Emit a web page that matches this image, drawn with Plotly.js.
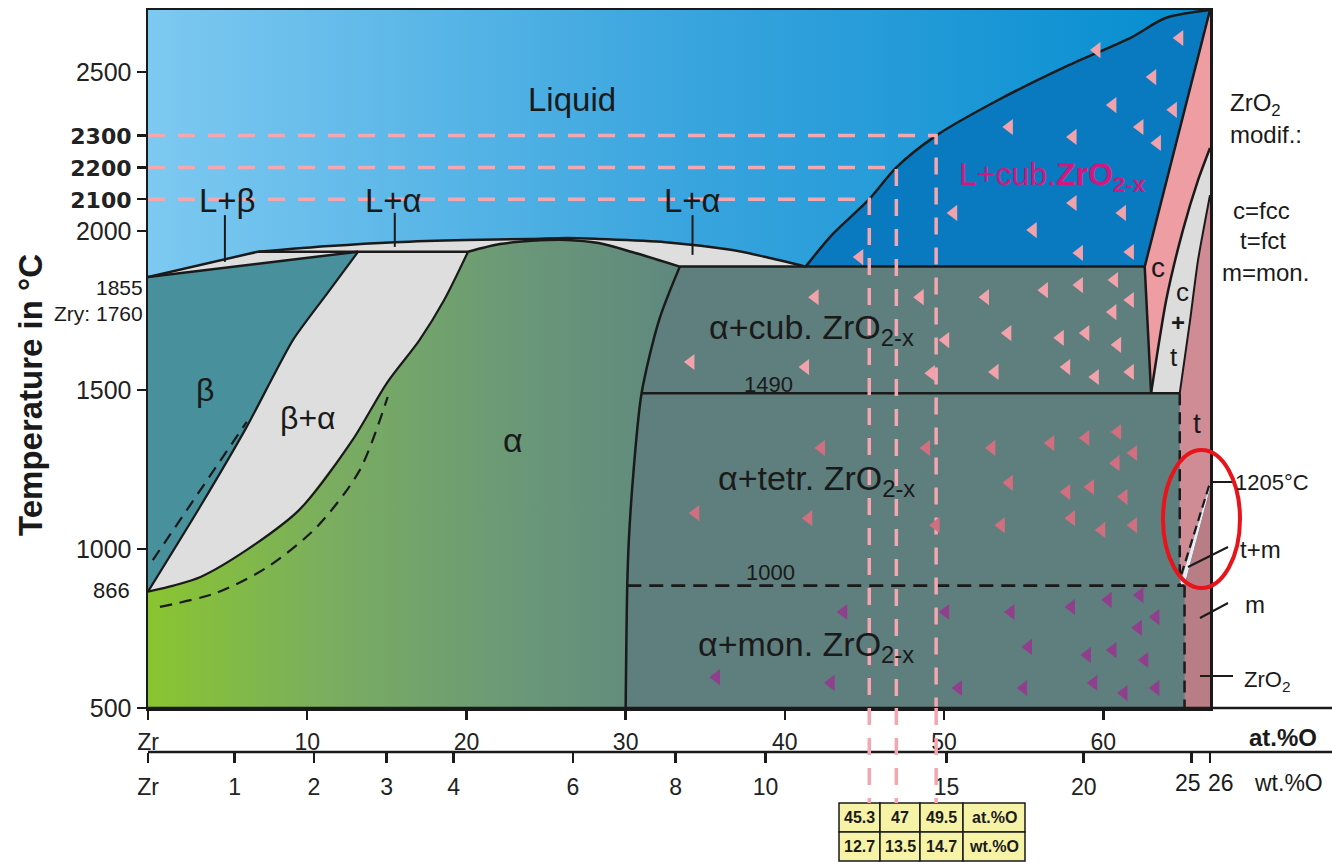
<!DOCTYPE html>
<html><head><meta charset="utf-8">
<script src="https://cdn.plot.ly/plotly-3.0.1.min.js"></script>
<style>html,body{margin:0;padding:0;background:#fff;}#chart{width:1332px;height:862px;}</style>
</head><body><div id="chart"></div>
<script>
// ================= DATA (x = at.% O, y = temperature in °C) =================
const xTickAt   = [0, 10, 20, 30, 40, 50, 60];
const xTickText = ['Zr', '10', '20', '30', '40', '50', '60'];
const wtTicks    = [0, 1, 2, 3, 4, 6, 8, 10, 15, 20, 25, 26];
const wtTickText = ['Zr', '1', '2', '3', '4', '6', '8', '10', '15', '20', '25', '26'];
const yTicks     = [500, 1000, 1500, 2000, 2500];
const yBoldTicks = [2100, 2200, 2300];

const X_MAX = 66.7, T_MIN = 500, T_MAX = 2695;
const T_PERITECTIC = 1935, T_MONOTECTIC = 1888, T_CT = 1490, T_1000LINE = 885, T_TM = 1205;

// liquidus Zr side (L+beta, L+alpha)
const liqAt = [0, 6.9, 11.4, 15.5, 20.0, 24.1, 26.3, 28.3, 32.5, 36.7, 38.8, 41.3];
const liqT  = [1855, 1935, 1953, 1965, 1972, 1975, 1978, 1975, 1965, 1940, 1918, 1888];
// beta solidus
const betaSolAt = [0, 13.2];
const betaSolT  = [1855, 1935];
// beta / (beta+alpha)
const betaBndAt = [0, 3.26, 6.2, 9.1, 11.2, 13.2];
const betaBndT  = [866, 1132, 1384, 1657, 1800, 1935];
// alpha / (beta+alpha)
const alphaBndAt = [0, 1.6, 3.3, 6.2, 9.5, 12.85, 15.0, 17.05, 18.6, 20.1];
const alphaBndT  = [866, 885, 912, 997, 1123, 1343, 1522, 1657, 1783, 1935];
// alpha solidus
const alphaSolAt = [20.1, 22.1, 24.1, 26.3, 28.3, 30.4, 33.4];
const alphaSolT  = [1935, 1959, 1969, 1972, 1962, 1934, 1888];
// alpha solvus
const alphaSvAt = [33.4, 32.1, 31.0, 30.5, 30.2, 30.1, 30.0];
const alphaSvT  = [1888, 1720, 1490, 1248, 1028, 885, 500];
// ZrO2 liquidus
const zLiqAt = [41.3, 43.0, 45.3, 47.0, 49.5, 53.4, 57.6, 61.8, 63.9, 66.7];
const zLiqT  = [1888, 1990, 2100, 2200, 2300, 2412, 2516, 2610, 2670, 2695];
// cubic ZrO2-x left boundary
const cubAt = [66.7, 62.6, 63.0];
const cubT  = [2695, 1888, 1490];
// c / (c+t)
const cctAt = [63.0, 63.95, 65.0, 65.95, 66.7];
const cctT  = [1490, 1783, 2003, 2160, 2261];
// t / (c+t)
const tctAt = [64.8, 65.45, 65.95, 66.7];
const tctT  = [1490, 1720, 1909, 2113];
// t/(t+m) and (t+m)/m
const tmAt = [64.8, 66.7];
const tmT  = [885, 1205];
const mAt  = [65.1, 66.7];
const mT   = [885, 1190];
const tetrRightAt = 64.8, monRightAt = 65.1;
// dashed curves in beta+alpha
const dashAlphaAt = [0.75, 4.3, 7.5, 10.6, 13.3, 15.05];
const dashAlphaT  = [818, 862, 943, 1069, 1248, 1478];
const dashBetaAt  = [0.3, 6.2];
const dashBetaT   = [965, 1400];

// marked compositions
const markAt = [45.3, 47, 49.5];
const markWt = [12.7, 13.5, 14.7];
const markT  = [2100, 2200, 2300];

// decorative ZrO2 flags
const flagCubAt = [64.8,59.6,63.1,60.6,64.4,62.3,54.1,58.1,63.4,50.6,58.1,61.2,55.6,58.5,61.7,44.7,
                   41.9,48.5,52.6,56.3,58.5,60.7,61.7,60.6,54.0,50.1,57.3,58.9,60.9,34.1,41.3,49.2,53.2,57.7,59.5,61.7];
const flagCubT  = [2607,2569,2484,2396,2381,2327,2327,2296,2277,2057,2088,2057,2003,1931,1934,1918,
                   1792,1792,1792,1814,1830,1846,1783,1745,1679,1657,1664,1679,1642,1588,1572,1553,1557,1572,1541,1557];
const flagTetAt = [42.3,48.9,53.0,56.7,58.9,60.9,61.9,60.8,54.1,57.7,59.2,61.3,34.4,41.5,49.5,53.6,58.0,59.9,61.9];
const flagTetT  = [1318,1318,1318,1333,1349,1368,1302,1270,1208,1179,1195,1164,1113,1097,1075,1075,1097,1060,1075];
const flagMonAt = [43.7,50.1,54.2,58.0,60.3,62.3,63.3,62.2,55.3,59.0,60.6,62.6,35.7,42.9,50.9,55.0,59.4,61.3,63.3];
const flagMonT  = [802,802,802,818,840,855,786,752,692,667,682,651,597,579,563,563,579,547,563];

// ================= STYLE / LAYOUT =================
const FONT = 'Liberation Sans, Arial, sans-serif';
const INK = '#1a1a1a';
const W = 1332, H = 862, ML = 148, MR = 122, MT = 10, MB = 20;
const PW = W - ML - MR, PH = H - MT - MB;
const X = px => (px - ML) / PW;          // pixel -> paper (layout decorations only)
const Y = py => (H - MB - py) / PH;
const Y_BOTTOM = Y(708);

function wtToAt(w) { const o = w / 16, z = (100 - w) / 91.224; return 100 * o / (o + z); }
const rev = a => a.slice().reverse();

const traces = [];
function region(x, y, color, grad) {
  const t = {x, y, type: 'scatter', mode: 'lines', fill: 'toself', line: {width: 0},
             fillcolor: color, hoverinfo: 'skip', showlegend: false};
  if (grad) t.fillgradient = grad;
  traces.push(t);
}
function line(x, y, width, dash, color, smooth) {
  traces.push({x, y, type: 'scatter', mode: 'lines', hoverinfo: 'skip', showlegend: false,
               line: {color: color || INK, width: width || 2.5, dash: dash || 'solid',
                      shape: smooth ? 'spline' : 'linear', smoothing: smooth || 0}});
}

// Liquid background
region([0, X_MAX, X_MAX, 0], [T_MIN, T_MIN, T_MAX, T_MAX], '#3aa5de',
  {type: 'horizontal', colorscale: [[0, '#7dc9f1'], [0.5, '#3aa5de'], [1, '#048dcf']]});
// two-phase gray (L+beta, L+alpha, beta+alpha)
region([].concat(liqAt, alphaSvAt, [0]), [].concat(liqT, alphaSvT, [T_MIN]), '#dedede');
// beta
region([].concat(betaSolAt, rev(betaBndAt)), [].concat(betaSolT, rev(betaBndT)), '#48909b');
// alpha (green gradient)
region([0].concat(alphaBndAt, alphaSolAt.slice(1), alphaSvAt.slice(1)),
       [T_MIN].concat(alphaBndT, alphaSolT.slice(1), alphaSvT.slice(1)), '#70a070',
  {type: 'horizontal', colorscale: [[0, '#89c530'], [0.35, '#7aad60'], [0.7, '#6a9878'], [1, '#5f887e']]});
// alpha + ZrO2-x
region(alphaSvAt.concat([monRightAt, monRightAt, tetrRightAt, tetrRightAt, cubAt[2], cubAt[1]]),
       alphaSvT.concat([T_MIN, T_1000LINE, T_1000LINE, T_CT, T_CT, T_MONOTECTIC]), '#5e7f7d');
// L + cub ZrO2
region(zLiqAt.concat([cubAt[1]]), zLiqT.concat([cubT[1]]), '#0a7ac0');
// c
region(cubAt.concat(cctAt), cubT.concat(cctT), '#ee9da3');
// c + t
region(cctAt.concat(rev(tctAt)), cctT.concat(rev(tctT)), '#dcdcdc');
// t
region(tctAt.concat([X_MAX, tmAt[0]]), tctT.concat([T_TM, tmT[0]]), '#d08c95');
// t + m wedge
region([tmAt[0], tmAt[1], mAt[1], mAt[0]], [tmT[0], tmT[1], mT[1], mT[0]], '#ececec');
// m
region([mAt[0], mAt[0], mAt[1], mAt[1]], [T_MIN, mT[0], mT[1], T_MIN], '#b97d86');

// phase boundaries
line(liqAt.slice(0, 2), liqT.slice(0, 2));
line(liqAt.slice(1), liqT.slice(1), 2.5, null, null, 0.8);
line(betaSolAt, betaSolT);
line([liqAt[1], alphaSolAt[0]], [T_PERITECTIC, T_PERITECTIC]);
line(betaBndAt, betaBndT, 2.2, null, null, 0.6);
line(alphaBndAt, alphaBndT, 2.2, null, null, 0.8);
line(alphaSolAt, alphaSolT, 2.5, null, null, 0.8);
line(alphaSvAt, alphaSvT, 2.5, null, null, 0.8);
line([alphaSvAt[0], cubAt[1]], [T_MONOTECTIC, T_MONOTECTIC]);
line(zLiqAt, zLiqT, 2.5, null, null, 0.8);
line(cubAt, cubT);
line([alphaSvAt[2], tetrRightAt], [T_CT, T_CT]);
line(cctAt, cctT, 2.5, null, null, 0.6);
line(tctAt, tctT, 2, null, null, 0.6);
line([alphaSvAt[5], monRightAt], [T_1000LINE, T_1000LINE], 2.8, '14px,8px');
line([tetrRightAt, tetrRightAt], [T_CT, T_1000LINE], 2.5, '12px,7px');
line([monRightAt, monRightAt], [T_1000LINE, T_MIN], 2.5, '12px,7px');
line([tmAt[0] + 0.1, tmAt[1] - 0.05], [tmT[0] + 35, tmT[1] - 5], 2.2, '9px,5px');
line(dashAlphaAt, dashAlphaT, 2.2, '12px,8px', null, 0.8);
line(dashBetaAt, dashBetaT, 2.2, '12px,8px');

// pink composition markers
markAt.forEach((a, i) => line([0, a, a], [markT[i], markT[i], T_MIN], 3.5, '17px,13px', '#f3a7b0'));

// flags
function flags(x, y, color) {
  traces.push({x, y, type: 'scatter', mode: 'markers', hoverinfo: 'skip', showlegend: false,
    marker: {symbol: 'triangle-left', size: 14, color, line: {width: 0}}});
}
flags(flagCubAt, flagCubT, '#f2a2aa');
flags(flagTetAt, flagTetT, '#cf6f80');
flags(flagMonAt, flagMonT, '#8f3f8c');

// invisible trace so the wt.% axis is drawn
traces.push({x: [markAt[0]], y: [T_MIN], xaxis: 'x2', yaxis: 'y', type: 'scatter', mode: 'markers',
  marker: {size: 1, opacity: 0}, hoverinfo: 'skip', showlegend: false});

// ---------- annotations ----------
const ann = [];
function txt(x, y, text, size, opt) {
  ann.push(Object.assign({x, y, xref: 'x', yref: 'y', text, showarrow: false,
    font: {family: FONT, size, color: '#1a1a1a'}, xanchor: 'center', yanchor: 'middle'}, opt || {}));
}
function ptxt(px, py, text, size, opt) {
  ann.push(Object.assign({x: X(px), y: Y(py), xref: 'paper', yref: 'paper', text, showarrow: false,
    font: {family: FONT, size, color: '#1a1a1a'}, xanchor: 'left', yanchor: 'middle'}, opt || {}));
}
txt(26.6, 2412, 'Liquid', 33);
txt(5.0, 2097, 'L+β', 33);
txt(15.4, 2097, 'L+α', 33);
txt(34.2, 2097, 'L+α', 33);
txt(3.6, 1500, 'β', 32);
txt(10.05, 1412, 'β+α', 32);
txt(22.9, 1343, 'α', 34);
txt(35.1, 1689, 'α+cub. ZrO<sub>2-x</sub>', 34, {xanchor: 'left'});
txt(35.7, 1217, 'α+tetr. ZrO<sub>2-x</sub>', 34, {xanchor: 'left'});
txt(34.4, 692, 'α+mon. ZrO<sub>2-x</sub>', 34, {xanchor: 'left'});
txt(39.0, 1516, '1490', 22);
txt(39.1, 925, '1000', 22);
txt(50.8, 2170, 'L+cub.<b>ZrO<sub>2-x</sub></b>', 32, {xanchor: 'left', font: {family: FONT, size: 32, color: '#d4177f'}});
txt(63.45, 1884, 'c', 28);
txt(64.95, 1808, 'c', 26);
txt(64.7, 1712, '<b>+</b>', 24);
txt(64.45, 1604, 't', 26);
txt(65.9, 1396, 't', 28);

ptxt(1228, 105, 'ZrO<sub>2</sub>', 24);
ptxt(1228, 135, 'modif.:', 24);
ptxt(1261, 210, 'c=fcc', 24, {xanchor: 'center'});
ptxt(1263, 240, 't=fct', 24, {xanchor: 'center'});
ptxt(1265, 272, 'm=mon.', 24, {xanchor: 'center'});
ptxt(1233, 482, '1205°C', 22);
ptxt(1238, 549, 't+m', 24);
ptxt(1243, 604, 'm', 24);
ptxt(1242, 681, 'ZrO<sub>2</sub>', 22);
ptxt(1283, 737, '<b>at.%O</b>', 24, {xanchor: 'center'});
ptxt(1288, 783, 'wt.%O', 23, {xanchor: 'center'});
ptxt(30, 395, '<b>Temperature in °C</b>', 33, {xanchor: 'center', textangle: -90});
ptxt(145, 287, '1855', 21, {xanchor: 'right'});
ptxt(145, 313, 'Zry: 1760', 21, {xanchor: 'right'});
ptxt(132, 590, '866', 22, {xanchor: 'right'});
// the two crowded wt.% labels at the ZrO2 end, set apart as in the original
ptxt(1188, 783, wtTickText[10], 23, {xanchor: 'center'});
ptxt(1221, 783, wtTickText[11], 23, {xanchor: 'center'});
const wtTickShown = wtTickText.map((t, i) => i >= 10 ? '' : t);

// table
const colEdges = [839, 880, 920, 963, 1025], rowEdges = [803, 832, 861];
const shapes = [];
const rowsTxt = [markAt.map(String).concat(['at.%O']), markWt.map(String).concat(['wt.%O'])];
for (let r = 0; r < 2; r++) for (let c = 0; c < 4; c++) {
  shapes.push({type: 'rect', xref: 'paper', yref: 'paper', x0: X(colEdges[c]), x1: X(colEdges[c + 1]),
    y0: Y(rowEdges[r + 1]), y1: Y(rowEdges[r]), fillcolor: '#f7f3a6', line: {color: INK, width: 1.5}, layer: 'above'});
  ptxt((colEdges[c] + colEdges[c + 1]) / 2, (rowEdges[r] + rowEdges[r + 1]) / 2, '<b>' + rowsTxt[r][c] + '</b>', 16, {xanchor: 'center'});
}
// extended axis lines
shapes.push({type: 'line', xref: 'paper', yref: 'paper', x0: 0, x1: X(W), y0: Y_BOTTOM, y1: Y_BOTTOM, line: {color: INK, width: 2.5}});
shapes.push({type: 'line', xref: 'paper', yref: 'paper', x0: 0, x1: X(W), y0: Y(752), y1: Y(752), line: {color: INK, width: 2.5}});
// composition lines continued down to the table
markAt.forEach(a => shapes.push({type: 'line', xref: 'x', yref: 'paper', x0: a, x1: a, y0: Y_BOTTOM, y1: Y(803),
  line: {color: '#f3a7b0', width: 3.5, dash: '17px,13px'}, layer: 'above'}));
// label pointers inside plot
[[4.83, 2050, 1903], [15.5, 2057, 1950], [34.2, 2050, 1925]].forEach(p =>
  shapes.push({type: 'line', xref: 'x', yref: 'y', x0: p[0], x1: p[0], y0: p[1], y1: p[2], line: {color: INK, width: 2}, layer: 'above'}));
// pointers on the right
[[1210, 482, 1233, 482], [1188, 567, 1228, 547], [1200, 618, 1228, 603], [1200, 676, 1233, 676]].forEach(p =>
  shapes.push({type: 'line', xref: 'paper', yref: 'paper', x0: X(p[0]), y0: Y(p[1]), x1: X(p[2]), y1: Y(p[3]), line: {color: INK, width: 2}, layer: 'above'}));
// red ellipse
shapes.push({type: 'circle', xref: 'paper', yref: 'paper', x0: X(1163), x1: X(1240), y0: Y(588), y1: Y(450),
  line: {color: '#e8141b', width: 4}, fillcolor: 'rgba(0,0,0,0)', layer: 'above'});

const yVals = yTicks.concat(yBoldTicks);
const yText = yTicks.map(String).concat(yBoldTicks.map(v => '<span style="font-family:DejaVu Sans;font-size:22px"><b>' + v + '</b></span>'));

const axisCommon = {showgrid: false, zeroline: false, showline: true, mirror: true, linewidth: 2.5, linecolor: INK,
  ticks: 'outside', tickwidth: 2.5, tickcolor: INK};

const layout = {
  width: W, height: H, margin: {l: ML, r: MR, t: MT, b: MB, pad: 0},
  paper_bgcolor: '#ffffff', plot_bgcolor: '#ffffff', showlegend: false,
  xaxis: Object.assign({}, axisCommon, {domain: [0, 1], range: [0, X_MAX], anchor: 'y', ticklen: 9, tickangle: 0,
    tickvals: xTickAt, ticktext: xTickText, tickfont: {family: FONT, size: 23, color: '#222'}, ticklabelstandoff: 3}),
  xaxis2: {overlaying: 'x', anchor: 'free', position: Y(752), side: 'bottom', range: [0, X_MAX], tickangle: 0,
    showgrid: false, zeroline: false, showline: false, ticks: 'outside', ticklen: 10, tickwidth: 2.5, tickcolor: INK,
    tickvals: wtTicks.map(wtToAt), ticktext: wtTickShown, tickfont: {family: FONT, size: 23, color: '#222'}, ticklabelstandoff: 4},
  yaxis: Object.assign({}, axisCommon, {domain: [Y_BOTTOM, 1], range: [T_MIN, T_MAX], anchor: 'x', ticklen: 9,
    tickvals: yVals, ticktext: yText, tickfont: {family: FONT, size: 25, color: '#222'}}),
  annotations: ann,
  shapes: shapes
};

Plotly.newPlot('chart', traces, layout, {staticPlot: true, displayModeBar: false});
</script>
</body></html>
